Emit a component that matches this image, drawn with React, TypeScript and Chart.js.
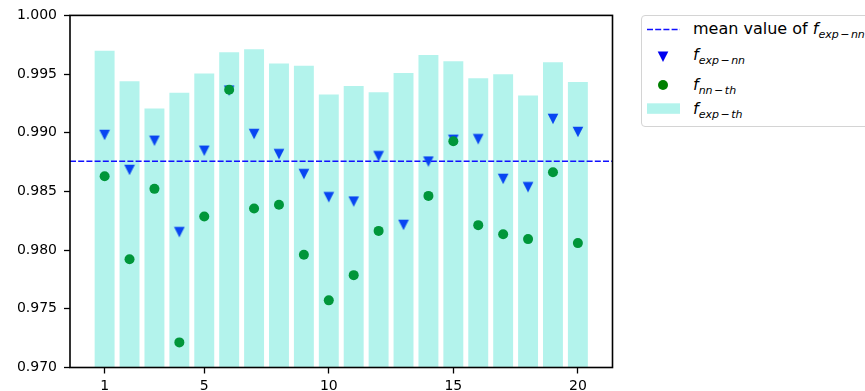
import React, { useEffect, useRef } from "react";
import { Chart, registerables } from "chart.js";

Chart.register(...registerables);

const CATEGORIES = [1, 2, 3, 4, 5, 6, 7, 8, 9, 10, 11, 12, 13, 14, 15, 16, 17, 18, 19, 20];
const F_EXP_TH = [0.99699, 0.99438, 0.99206, 0.99342, 0.99504, 0.99685, 0.99711, 0.99591, 0.99572, 0.99325,
  0.99399, 0.99345, 0.99509, 0.99662, 0.99609, 0.99464, 0.99498, 0.99317, 0.996, 0.99432];
const F_EXP_NN = [0.98981, 0.98683, 0.98932, 0.98153, 0.98847, 0.9936, 0.98989, 0.98818, 0.98648, 0.98451,
  0.98414, 0.988, 0.98215, 0.98755, 0.9894, 0.98945, 0.98607, 0.98536, 0.99118, 0.99007];
const F_NN_TH = [0.9863, 0.97923, 0.98522, 0.97214, 0.98287, 0.99367, 0.98355, 0.98386, 0.9796, 0.97572,
  0.97787, 0.98164, null, 0.98462, 0.98928, 0.98213, 0.98136, 0.98094, 0.98664, 0.9806];
const MEAN_EXP_NN = 0.98757;
const X_TICKS = [1, 5, 10, 15, 20];
const Y_TICKS = [0.97, 0.975, 0.98, 0.985, 0.99, 0.995, 1.0];
const X_MIN = -0.39;
const X_MAX = 21.39;
const Y_MIN = 0.97;
const Y_MAX = 1.0;

const BAR_COLOR = "rgba(64,224,208,0.4)";
const TRI_COLOR = "#0845f2";
const DOT_COLOR = "#00963a";
const LINE_COLOR = "#1010ff";
const FONT = "'DejaVu Sans', sans-serif";

function makeTriangle(color: string) {
  const size = 12;
  const s = 10.6;
  const c = size / 2;
  const cv = document.createElement("canvas");
  cv.width = size;
  cv.height = size;
  const ctx = cv.getContext("2d")!;
  ctx.fillStyle = color;
  ctx.beginPath();
  ctx.moveTo(c - s / 2, c - s / 2);
  ctx.lineTo(c + s / 2, c - s / 2);
  ctx.lineTo(c, c + s / 2);
  ctx.closePath();
  ctx.fill();
  return cv;
}

const framePlugin = {
  id: "frame",
  afterDatasetsDraw(chart: any) {
    const { ctx, chartArea } = chart;
    ctx.save();
    ctx.strokeStyle = "#000";
    ctx.lineWidth = 1.6;
    ctx.strokeRect(chartArea.left, chartArea.top, chartArea.right - chartArea.left, chartArea.bottom - chartArea.top);
    ctx.restore();
  },
};

function Sub({ a, b }: { a: string; b: string }) {
  return (
    <span>
      <span style={{ fontStyle: "italic" }}>f</span>
      <span style={{ fontSize: "11px", position: "relative", top: "4px", fontStyle: "italic" }}>
        {a}
        <span style={{ fontStyle: "normal", margin: "0 1.5px" }}>−</span>
        {b}
      </span>
    </span>
  );
}

export default function App() {
  const ref = useRef<HTMLCanvasElement>(null);

  useEffect(() => {
    if (!ref.current) return;
    Chart.defaults.font.family = FONT;
    Chart.defaults.font.size = 14;
    Chart.defaults.color = "#000";
    const tri = makeTriangle(TRI_COLOR);
    const tickGrid = {
      display: true,
      offset: false,
      drawOnChartArea: false,
      drawTicks: true,
      tickLength: 6,
      tickWidth: 1.3,
      tickColor: "#000",
    };
    const chart = new Chart(ref.current, {
      type: "bar",
      data: {
        datasets: [
          {
            type: "bar",
            data: CATEGORIES.map((c, i) => ({ x: c, y: F_EXP_TH[i] })),
            backgroundColor: BAR_COLOR,
            borderWidth: 0,
            barPercentage: 0.8,
            categoryPercentage: 1,
            order: 4,
          } as any,
          {
            type: "line",
            data: [
              { x: X_MIN, y: MEAN_EXP_NN },
              { x: X_MAX, y: MEAN_EXP_NN },
            ],
            borderColor: LINE_COLOR,
            borderWidth: 1.5,
            borderDash: [6, 2.2],
            pointRadius: 0,
            fill: false,
            order: 3,
          } as any,
          {
            type: "scatter",
            data: CATEGORIES.map((c, i) => ({ x: c, y: F_EXP_NN[i] })),
            pointStyle: tri,
            pointRadius: 6,
            order: 2,
          } as any,
          {
            type: "scatter",
            data: CATEGORIES.map((c, i) => ({ x: c, y: F_NN_TH[i] })),
            pointStyle: "circle",
            pointRadius: 5,
            backgroundColor: DOT_COLOR,
            borderWidth: 0,
            order: 1,
          } as any,
        ],
      },
      options: {
        responsive: false,
        animation: false,
        events: [],
        devicePixelRatio: 1,
        layout: { padding: { left: 0, top: 15, right: 252.5, bottom: 0 } },
        plugins: { legend: { display: false }, tooltip: { enabled: false } },
        scales: {
          x: {
            type: "linear",
            min: X_MIN,
            max: X_MAX,
            offset: false,
            afterBuildTicks: (s: any) => {
              s.ticks = X_TICKS.map((v) => ({ value: v }));
            },
            afterFit: (s: any) => {
              s.height = 23.5;
            },
            grid: tickGrid,
            border: { display: false },
            ticks: { padding: 4, color: "#000", font: { size: 14 }, callback: (v: any) => String(v), maxRotation: 0, autoSkip: false },
          },
          y: {
            type: "linear",
            min: Y_MIN,
            max: Y_MAX,
            afterBuildTicks: (s: any) => {
              s.ticks = Y_TICKS.map((v) => ({ value: v }));
            },
            afterFit: (s: any) => {
              s.width = 70;
            },
            grid: tickGrid,
            border: { display: false },
            ticks: { padding: 7, color: "#000", font: { size: 14 }, callback: (v: any) => Number(v).toFixed(3), autoSkip: false },
          },
        },
      } as any,
      plugins: [framePlugin],
    });
    return () => chart.destroy();
  }, []);

  const rowText: React.CSSProperties = {
    position: "absolute",
    left: 693,
    fontFamily: FONT,
    fontSize: "16px",
    lineHeight: "18px",
    whiteSpace: "nowrap",
    color: "#000",
  };

  return (
    <div style={{ position: "fixed", left: 0, top: 0, width: 865, height: 391, overflow: "hidden", background: "#fff" }}>
      <canvas ref={ref} width={865} height={391} style={{ position: "absolute", left: 0, top: 0, width: 865, height: 391 }} />
      <div
        style={{
          position: "absolute",
          left: 641,
          top: 15,
          width: 420,
          height: 112,
          border: "1px solid #d4d4d4",
          borderRadius: 4,
          background: "#fff",
          boxSizing: "border-box",
        }}
      />
      <svg style={{ position: "absolute", left: 0, top: 0 }} width={865} height={391}>
        <line x1={647} y1={29.5} x2={680} y2={29.5} stroke={LINE_COLOR} strokeWidth={1.5} strokeDasharray="6 2.2" />
        <polygon points="657.7,51.5 668.3,51.5 663,62" fill="#0000f0" />
        <circle cx={663} cy={85} r={5} fill="#008000" />
        <rect x={647} y={103.3} width={33} height={10.5} fill={BAR_COLOR} />
      </svg>
      <div style={{ ...rowText, top: 19.5 }}>
        mean value of <Sub a="exp" b="nn" />
      </div>
      <div style={{ ...rowText, top: 45.5 }}>
        <Sub a="exp" b="nn" />
      </div>
      <div style={{ ...rowText, top: 75.5 }}>
        <Sub a="nn" b="th" />
      </div>
      <div style={{ ...rowText, top: 99.5 }}>
        <Sub a="exp" b="th" />
      </div>
    </div>
  );
}
